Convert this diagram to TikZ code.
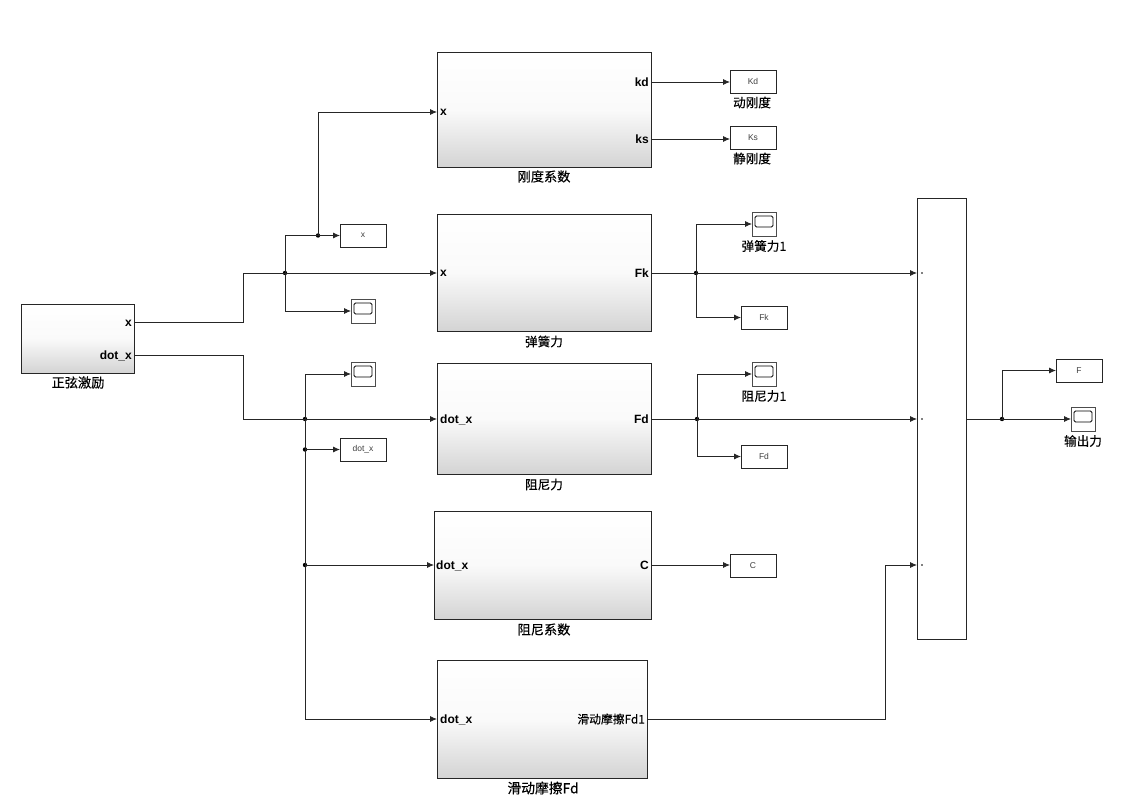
\documentclass[tikz,border=0pt]{standalone}
\usepackage{fontspec}
\setmainfont{Liberation Sans}
\newfontfamily\cjk[FakeBold=0.3]{Noto Sans CJK SC}
\usetikzlibrary{arrows.meta,shadows}
\tikzset{
  x=1pt,y=-1pt,
  box/.style={draw=black!85,line width=.85pt,fill=white,inner sep=0pt,outer sep=0pt,anchor=north west,
    drop shadow={shadow xshift=1.2pt,shadow yshift=-1.2pt,opacity=.4,fill=black}},
  subsys/.style={box,top color=white,bottom color=black!17,middle color=black!2},
  gotobox/.style={box,minimum width=46pt,minimum height=23pt,font=\fontsize{8.5}{9}\selectfont,text=black!75},
  scopebox/.style={box,minimum width=24pt,minimum height=24pt,draw=black!70},
  screen/.style={draw=black,line width=.75pt,rounded corners=1.5pt,fill=white,inner sep=0pt,minimum width=18pt,minimum height=11pt},
  portl/.style={font=\fontsize{12}{14}\selectfont\bfseries,inner sep=0pt,anchor=west},
  portr/.style={font=\fontsize{12}{14}\selectfont\bfseries,inner sep=0pt,anchor=east},
  caption/.style={font=\fontsize{12.6}{14}\selectfont\cjk,inner sep=0pt},
  widecaption/.style={font=\fontsize{13.2}{15}\selectfont\cjk,inner sep=0pt},
  junction/.style={circle,fill=black,inner sep=0pt,minimum size=4.4pt},
  muxdot/.style={circle,fill=black,inner sep=0pt,minimum size=1.8pt},
  wire/.style={draw=black!85,line width=.8pt},
  sig/.style={wire,-{Latex[length=7pt,width=6pt]}},
}
\begin{document}
\begin{tikzpicture}
\useasboundingbox (0,0) rectangle (1129,804);
% subsystems
\node[subsys,minimum width=113pt,minimum height=69pt] (src) at (21,304) {};
\node[subsys,minimum width=214pt,minimum height=115pt] (stiff) at (437,52) {};
\node[subsys,minimum width=214pt,minimum height=117pt] (spring) at (437,214) {};
\node[subsys,minimum width=214pt,minimum height=111pt] (damp) at (437,363) {};
\node[subsys,minimum width=217pt,minimum height=108pt] (coef) at (434,511) {};
\node[subsys,minimum width=210pt,minimum height=118pt] (fric) at (437,660) {};
\node[box,minimum width=49pt,minimum height=441pt] (mux) at (917,198) {};
% captions
\node[widecaption] (capsrc) at (78,382.5) {正弦激励};
\node[widecaption] (capstiff) at (544,176.5) {刚度系数};
\node[caption] (capspring) at (544,341.5) {弹簧力};
\node[caption] (capdamp) at (544,484.5) {阻尼力};
\node[widecaption] (capcoef) at (544,629.5) {阻尼系数};
\node[widecaption,font=\fontsize{13.8}{15}\selectfont\cjk] (capfric) at (543,788) {滑动摩擦Fd};
% port labels
\node[portr] (lsx) at (132,323) {x};
\node[portr] (lsd) at (132,356) {dot\_x};
\node[portl] (l1) at (440,112.5) {x};
\node[portr] (l2) at (649,82.5) {kd};
\node[portr] (l3) at (649,139.5) {ks};
\node[portl] (l4) at (440,273.5) {x};
\node[portr] (l5) at (649,273.5) {Fk};
\node[portl] (l6) at (440,419.5) {dot\_x};
\node[portr] (l7) at (649,419.5) {Fd};
\node[portl] (l8) at (436,565.5) {dot\_x};
\node[portr] (l9) at (649,565.5) {C};
\node[portl] (l10) at (440,719.5) {dot\_x};
\node[portr,font=\fontsize{11.8}{13}\selectfont\cjk] (l11) at (645,719) {滑动摩擦Fd1};
% goto blocks
\node[gotobox] (gkd) at (730,70) {Kd};
\node[gotobox] (gks) at (730,126) {Ks};
\node[gotobox] (gx) at (340,224) {x};
\node[gotobox] (gfk) at (741,306) {Fk};
\node[gotobox] (gdx) at (340,438) {dot\_x};
\node[gotobox] (gfd) at (741,445) {Fd};
\node[gotobox] (gc) at (730,554) {C};
\node[gotobox] (gf) at (1056,359) {F};
\node[caption] (capkd) at (752,102.5) {动刚度};
\node[caption] (capks) at (752,158.5) {静刚度};
% scopes
\node[scopebox] (sx) at (351,299) {};
\node[screen] at (sx.center) [yshift=2.5pt] (sxs) {};
\node[scopebox] (sdx) at (351,362) {};
\node[screen] at (sdx.center) [yshift=2.5pt] (sdxs) {};
\node[scopebox] (sfk) at (752,212) {};
\node[screen] at (sfk.center) [yshift=2.5pt] (sfks) {};
\node[scopebox] (sfd) at (752,362) {};
\node[screen] at (sfd.center) [yshift=2.5pt] (sfds) {};
\node[scopebox] (sout) at (1071,407) {};
\node[screen] at (sout.center) [yshift=2.5pt] (souts) {};
\node[caption] (capsfk) at (764,246) {弹簧力1};
\node[caption] (capsfd) at (764,396) {阻尼力1};
\node[caption] (capout) at (1083,441) {输出力};
% ports
\coordinate (srcx) at (134,322);
\coordinate (srcd) at (134,355);
\coordinate (stiffin) at (437,112);
\coordinate (stiffkd) at (651,82);
\coordinate (stiffks) at (651,139);
\coordinate (springin) at (437,273);
\coordinate (springout) at (651,273);
\coordinate (dampin) at (437,419);
\coordinate (dampout) at (651,419);
\coordinate (coefin) at (434,565);
\coordinate (coefout) at (651,565);
\coordinate (fricin) at (437,719);
\coordinate (fricout) at (647,719);
\coordinate (muxa) at (917,273);
\coordinate (muxb) at (917,419);
\coordinate (muxc) at (917,565);
\coordinate (muxout) at (966,419);
% junctions
\node[junction] (j1) at (285,273) {};
\node[junction] (j2) at (318,235.5) {};
\node[junction] (j3) at (305,419) {};
\node[junction] (j4) at (305,449.5) {};
\node[junction] (j5) at (305,565) {};
\node[junction] (j6) at (696,273) {};
\node[junction] (j7) at (697,419) {};
\node[junction] (j8) at (1002,419) {};
\node[muxdot] (m1) at (922,273) {};
\node[muxdot] (m2) at (922,419) {};
\node[muxdot] (m3) at (922,565) {};
% wires
\draw[wire] (srcx) -| (243,273) -- (j1.center);
\draw[sig] (j1.center) -- (springin);
\draw[wire] (j1.center) |- (j2.center);
\draw[sig] (j2.center) -- (gx.west);
\draw[sig] (j2.center) |- (stiffin);
\draw[sig] (j1.center) |- (sx.west);
\draw[wire] (srcd) -| (243,419) -- (j3.center);
\draw[sig] (j3.center) -- (dampin);
\draw[sig] (j3.center) |- (sdx.west);
\draw[wire] (j3.center) -- (j4.center);
\draw[sig] (j4.center) -- (gdx.west);
\draw[wire] (j4.center) -- (j5.center);
\draw[sig] (j5.center) -- (coefin);
\draw[sig] (j5.center) |- (fricin);
\draw[sig] (stiffkd) -- (stiffkd -| gkd.west);
\draw[sig] (stiffks) -- (stiffks -| gks.west);
\draw[wire] (springout) -- (j6.center);
\draw[sig] (j6.center) -- (muxa);
\draw[sig] (j6.center) |- (sfk.west);
\draw[sig] (j6.center) |- (gfk.west);
\draw[wire] (dampout) -- (j7.center);
\draw[sig] (j7.center) -- (muxb);
\draw[sig] (j7.center) |- (sfd.west);
\draw[sig] (j7.center) |- (gfd.west);
\draw[sig] (coefout) -- (coefout -| gc.west);
\draw[sig] (fricout) -| (885,565) -- (muxc);
\draw[wire] (muxout) -- (j8.center);
\draw[sig] (j8.center) |- (gf.west);
\draw[sig] (j8.center) -- (sout.west);
\end{tikzpicture}
\end{document}
